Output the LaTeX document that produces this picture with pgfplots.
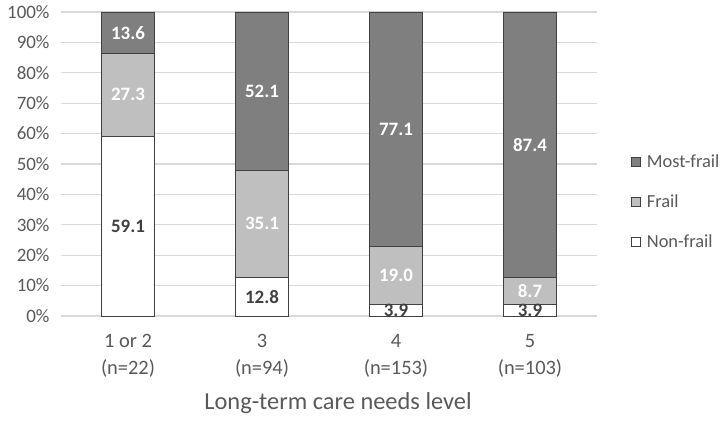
\documentclass[border=0pt]{standalone}
\usepackage{pgfplots}
\pgfplotsset{compat=1.18}
\usepackage{fontspec}
\setmainfont{Carlito}
\definecolor{mostfrail}{HTML}{7F7F7F}
\definecolor{frail}{HTML}{BFBFBF}
\definecolor{edge}{HTML}{404040}
\definecolor{txt}{HTML}{595959}
\definecolor{grid}{HTML}{D9D9D9}
\begin{document}
\begin{tikzpicture}[x=1bp,y=1bp]
\useasboundingbox (0,0) rectangle (723,420);
\begin{axis}[
  at={(61bp,104bp)}, anchor=south west,
  scale only axis, width=536bp, height=304bp,
  xmin=-0.5, xmax=3.5, ymin=0, ymax=100,
  ybar stacked, bar width=0.4,
  axis line style={draw=none},
  ytick={0,10,...,100},
  yticklabel={\pgfmathprintnumber{\tick}\%},
  yticklabel style={font=\fontsize{19}{22}\selectfont, text=txt, xshift=-8bp},
  ymajorgrids, grid style={draw=grid, line width=1.1pt},
  xtick={0,1,2,3},
  xticklabels={{1 or 2\\(n=22)},{3\\(n=94)},{4\\(n=153)},{5\\(n=103)}},
  xticklabel style={align=center, font=\fontsize{20.5}{27}\selectfont, text=txt, yshift=-15bp},
  major tick length=0pt,
  /pgf/number format/assume math mode=true,
  xlabel={Long-term care needs level},
  xlabel style={font=\fontsize{24.5}{28}\selectfont, text=txt, yshift=-8bp, xshift=9bp},
  legend style={at={(1.058,0.375)}, anchor=west, draw=none, fill=none,
    font=\fontsize{18.5}{20}\selectfont, text=txt, row sep=22bp, column sep=4bp,
    legend cell align=left},
  legend image code/.code={\draw[#1, draw=edge, line width=0.6pt] (0bp,-4.5bp) rectangle (9bp,4.5bp);},
  reverse legend,
  clip=false,
]
\addplot[fill=white, draw=edge, line width=0.8pt] coordinates {(0,59.1) (1,12.8) (2,3.9) (3,3.9)};
\addlegendentry{Non-frail}
\addplot[fill=frail, draw=edge, line width=0.8pt] coordinates {(0,27.3) (1,35.1) (2,19.0) (3,8.7)};
\addlegendentry{Frail}
\addplot[fill=mostfrail, draw=edge, line width=0.8pt] coordinates {(0,13.6) (1,52.1) (2,77.1) (3,87.4)};
\addlegendentry{Most-frail}
\end{axis}
\begin{axis}[
  at={(61bp,104bp)}, anchor=south west,
  scale only axis, width=536bp, height=304bp,
  xmin=-0.5, xmax=3.5, ymin=0, ymax=100,
  axis lines=none, clip=false,
  nodes near coords, point meta=explicit symbolic,
  nodes near coords align=center,
  every node near coord/.append style={font=\bfseries\fontsize{19}{20}\selectfont, anchor=center},
]
\addplot[only marks, mark=none, every node near coord/.append style={text=white}]
  coordinates {(0,93.2)[13.6] (1,73.95)[52.1] (2,61.45)[77.1] (3,56.3)[87.4]
               (0,72.75)[27.3] (1,30.35)[35.1] (2,13.4)[19.0] (3,8.25)[8.7]};
\addplot[only marks, mark=none, every node near coord/.append style={text=edge}]
  coordinates {(0,29.55)[59.1] (1,6.4)[12.8] (2,1.95)[3.9] (3,1.95)[3.9]};
\end{axis}
\end{tikzpicture}
\end{document}
